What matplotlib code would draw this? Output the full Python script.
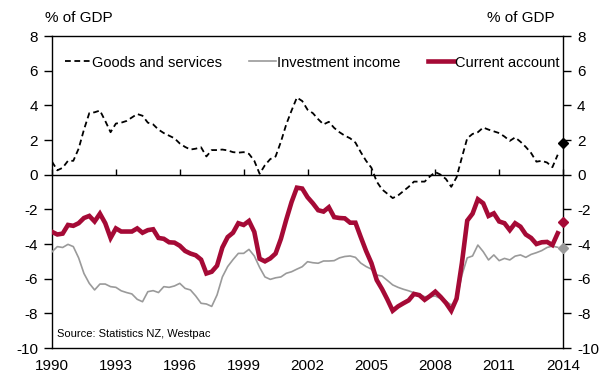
import numpy as np
import matplotlib
matplotlib.use("Agg")
import matplotlib.pyplot as plt

plt.rcParams['font.family'] = ['Liberation Sans', 'DejaVu Sans']

start_year = 1990.0
step = 0.25  # quarterly

goods_services = [
    0.75, 0.25, 0.4, 0.8, 0.8, 1.5, 2.6, 3.55, 3.6, 3.7, 3.1, 2.45,
    2.95, 3.0, 3.1, 3.3, 3.5, 3.4, 3.0, 2.9, 2.6, 2.4, 2.25, 2.1,
    1.8, 1.6, 1.45, 1.5, 1.58, 1.05, 1.42, 1.42, 1.45, 1.4, 1.3, 1.27,
    1.3, 1.2, 0.8, 0.05, 0.55, 0.9, 1.05, 1.9, 2.9, 3.7, 4.45, 4.25,
    3.75, 3.55, 3.2, 2.9, 3.05, 2.7, 2.45, 2.25, 2.1, 1.85, 1.3, 0.8,
    0.4, -0.4, -0.85, -1.1, -1.35, -1.2, -0.95, -0.7, -0.4, -0.4, -0.4, -0.1,
    0.15, 0.0, -0.25, -0.7, -0.15, 1.0, 2.1, 2.35, 2.45, 2.72, 2.6, 2.5,
    2.4, 2.2, 1.95, 2.15, 1.9, 1.6, 1.25, 0.75, 0.8, 0.7, 0.43, 1.15,
]

investment_income = [
    -4.45, -4.15, -4.2, -4.02, -4.15, -4.8, -5.7, -6.27, -6.65, -6.31, -6.31, -6.46,
    -6.5, -6.7, -6.8, -6.88, -7.19, -7.33, -6.75, -6.69, -6.8, -6.46, -6.5, -6.42,
    -6.27, -6.56, -6.65, -7.0, -7.42, -7.46, -7.6, -6.94, -5.9, -5.3, -4.9, -4.54,
    -4.54, -4.31, -4.69, -5.35, -5.9, -6.04, -5.95, -5.9, -5.69, -5.6, -5.45, -5.31,
    -5.02, -5.08, -5.11, -4.98, -4.98, -4.96, -4.8, -4.72, -4.69, -4.77, -5.1, -5.3,
    -5.45, -5.79, -5.85, -6.1, -6.36, -6.5, -6.61, -6.7, -6.81, -6.9, -7.04, -7.04,
    -7.0, -7.15, -7.3, -7.52, -7.23, -5.8, -4.8, -4.69, -4.06, -4.44, -4.92, -4.63,
    -4.96, -4.83, -4.92, -4.7, -4.63, -4.77, -4.6, -4.5, -4.38, -4.2, -4.12, -4.19,
]

current_account = [
    -3.3, -3.45, -3.4, -2.9, -2.95, -2.8, -2.5, -2.38, -2.7, -2.25, -2.8, -3.65,
    -3.1, -3.28, -3.28, -3.28, -3.1, -3.35, -3.2, -3.15, -3.65, -3.7, -3.9, -3.92,
    -4.1, -4.4, -4.55, -4.65, -4.9, -5.7, -5.6, -5.25, -4.2, -3.6, -3.35, -2.8,
    -2.9, -2.67, -3.3, -4.85, -5.0, -4.83, -4.55, -3.7, -2.6, -1.58, -0.75, -0.8,
    -1.3, -1.65, -2.05, -2.13, -1.88, -2.45, -2.5, -2.52, -2.77, -2.77, -3.6, -4.4,
    -5.1, -6.08, -6.6, -7.2, -7.85, -7.6, -7.42, -7.25, -6.88, -6.95, -7.22, -7.0,
    -6.75, -7.05, -7.4, -7.85, -7.15, -5.1, -2.65, -2.25, -1.42, -1.65, -2.38, -2.23,
    -2.7, -2.8, -3.2, -2.8, -3.0, -3.45, -3.65, -4.0, -3.9, -3.88, -4.06, -3.38,
]

forecast_year = 2014.0
forecast_goods = 1.8
forecast_current = -2.75
forecast_investment = -4.25

x_ticks = [1990, 1993, 1996, 1999, 2002, 2005, 2008, 2011, 2014]
y_ticks = [-10, -8, -6, -4, -2, 0, 2, 4, 6, 8]

RED = '#A50A36'
GREY = '#9A9A9A'

years = start_year + step * np.arange(len(goods_services))

fig = plt.figure(figsize=(6.12, 3.74), dpi=100)
ax = fig.add_axes([0.085, 0.0695, 0.835, 0.8342])

ax.plot(years, investment_income, color=GREY, lw=1.2, label='Investment income', zorder=3)
ax.plot(years, current_account, color=RED, lw=3.3, label='Current account', zorder=4,
        solid_joinstyle='miter')
ax.plot(years, goods_services, color='black', lw=1.3, ls=(0, (3.2, 2.0)),
        label='Goods and services', zorder=5)

ax.plot([forecast_year], [forecast_goods], marker='D', color='black', ms=5.5, zorder=6, clip_on=False)
ax.plot([forecast_year], [forecast_current], marker='D', color=RED, ms=5.5, zorder=6, clip_on=False)
ax.plot([forecast_year], [forecast_investment], marker='D', color=GREY, ms=5.5, zorder=6, clip_on=False)

ax.axhline(0, color='black', lw=1.0, zorder=2)

ax.set_xlim(1990, 2014)
ax.set_ylim(-10, 8)
ax.set_yticks(y_ticks)
ax.set_yticklabels([str(v) for v in y_ticks])
ax.set_xticks(x_ticks)
ax.set_xticklabels([str(v) for v in x_ticks])
ax.tick_params(axis='x', length=0, pad=8, labelsize=11)
ax.tick_params(axis='y', direction='out', length=6, width=1, labelsize=11,
               left=True, right=True, labelleft=True, labelright=True, pad=4)
for s in ax.spines.values():
    s.set_linewidth(1.0)
    s.set_color('black')

# small ticks on the zero line
ax2 = ax.twiny()
ax2.set_xlim(1990, 2014)
ax2.set_xticks(x_ticks)
ax2.xaxis.set_ticks_position('bottom')
ax2.spines['bottom'].set_position(('data', 0))
for name in ['top', 'left', 'right', 'bottom']:
    ax2.spines[name].set_visible(False)
ax2.tick_params(axis='x', direction='in', length=4, width=1, labelbottom=False, labeltop=False)

h, l = ax.get_legend_handles_labels()
order = [2, 0, 1]
leg = ax.legend([h[i] for i in order], [l[i] for i in order], ncol=3, frameon=False,
                loc='upper left', bbox_to_anchor=(0.005, 0.97), fontsize=10.5,
                handlelength=1.8, handletextpad=0.1, columnspacing=1.85,
                borderaxespad=0.3)

fig.text(0.073, 0.952, '% of GDP', fontsize=11, ha='left', va='center')
fig.text(0.907, 0.952, '% of GDP', fontsize=11, ha='right', va='center')
ax.text(0.01, 0.03, 'Source: Statistics NZ, Westpac', transform=ax.transAxes,
        fontsize=8, ha='left', va='bottom')

fig.savefig('out.png', dpi=100)
